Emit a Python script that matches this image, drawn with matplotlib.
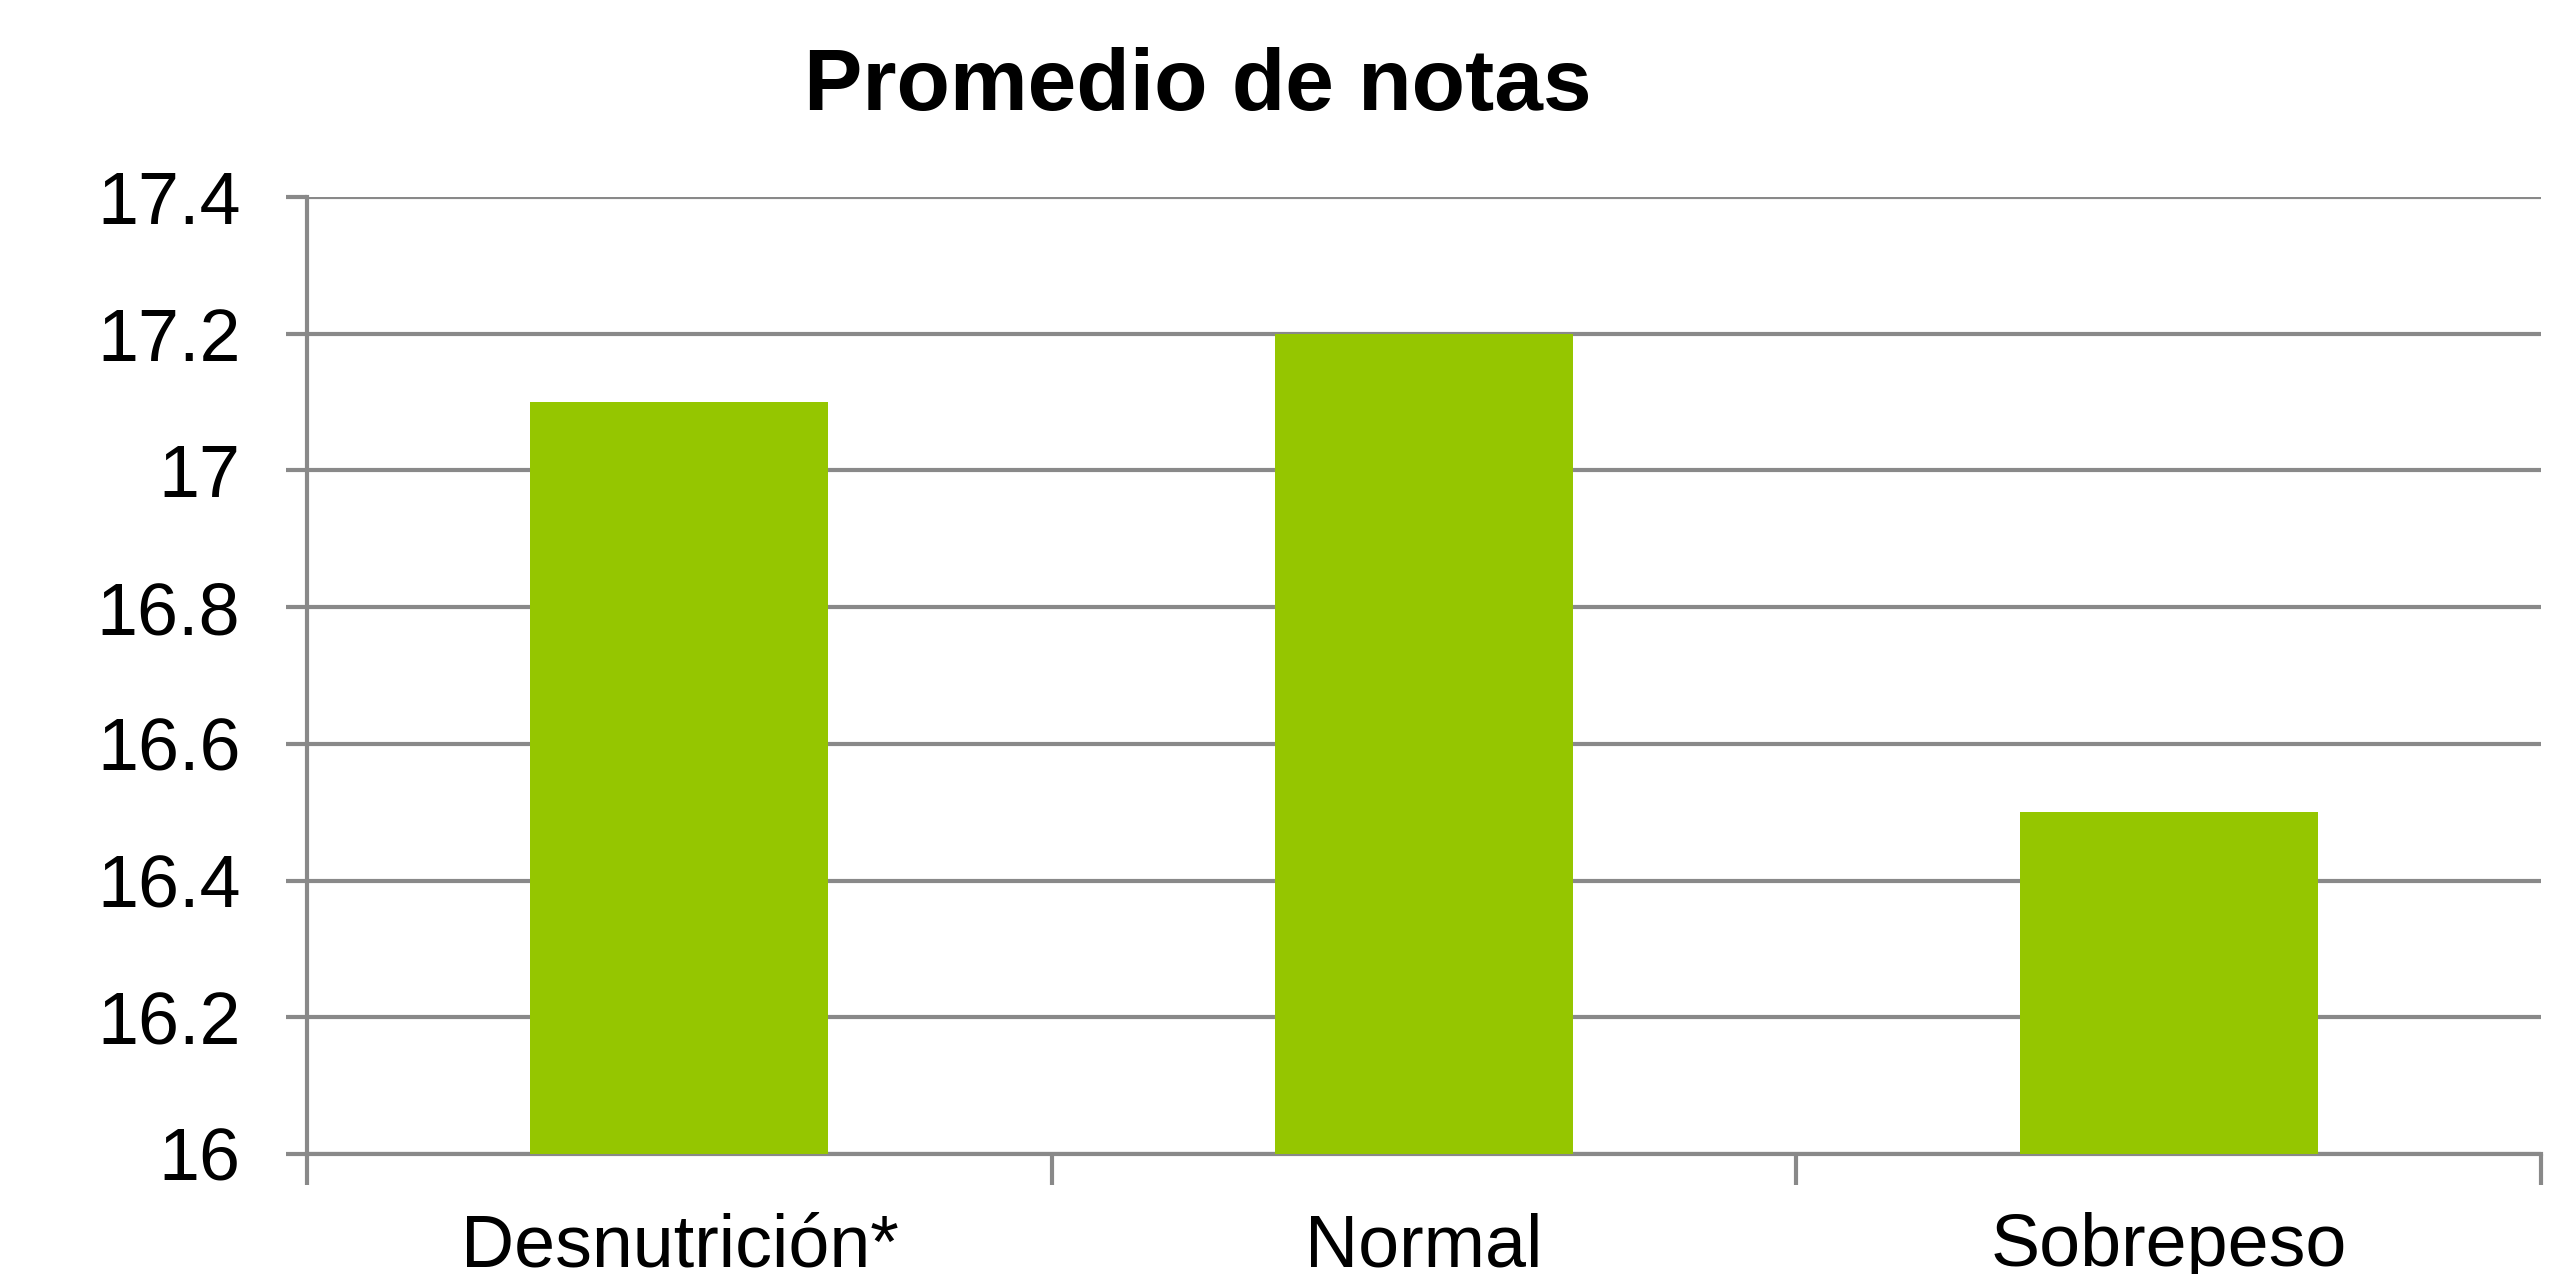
import numpy as np
import matplotlib.pyplot as plt

categorias = ["Desnutrición*", "Normal", "Sobrepeso"]
promedios = [17.1, 17.2, 16.5]
y_ticks = [16, 16.2, 16.4, 16.6, 16.8, 17, 17.2, 17.4]
y_labels = ["16", "16.2", "16.4", "16.6", "16.8", "17", "17.2", "17.4"]

plt.rcParams['font.family'] = ['Liberation Sans', 'DejaVu Sans']

fig = plt.figure(figsize=(25.7, 12.74), dpi=100)
ax = fig.add_axes([0.1195, 0.0942, 0.8692, 0.7512])

x = np.arange(len(categorias))
ax.bar(x, promedios, width=0.4, color='#95c600', zorder=3)

gris = '#898989'
lw = 3
ax.set_ylim(16, 17.4)
ax.set_xlim(-0.5, len(categorias) - 0.5)
ax.set_yticks(y_ticks)
ax.set_yticklabels(y_labels)
ax.yaxis.grid(True, color=gris, linewidth=lw, zorder=0)

# separadores de categoria como ticks mayores, etiquetas en los menores
ax.set_xticks(np.arange(-0.5, len(categorias), 1.0))
ax.set_xticklabels([])
ax.set_xticks(x, minor=True)
ax.set_xticklabels(categorias, minor=True)

ax.tick_params(axis='y', length=15, width=lw, color=gris, pad=33, labelsize=53)
ax.tick_params(axis='x', which='major', length=22, width=lw, color=gris)
ax.tick_params(axis='x', which='minor', length=0, pad=42, labelsize=53)

for s in ['top', 'right']:
    ax.spines[s].set_visible(False)
for s in ['left', 'bottom']:
    ax.spines[s].set_color(gris)
    ax.spines[s].set_linewidth(lw)

fig.text(0.466, 0.9137, "Promedio de notas", ha='center', va='baseline',
         fontsize=63, fontweight='bold')

fig.savefig("out.png", dpi=100, facecolor='white')
